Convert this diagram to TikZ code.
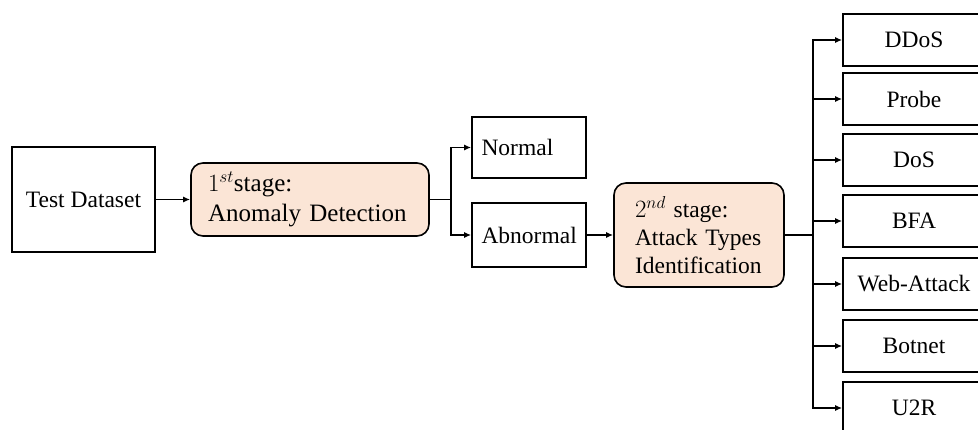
\documentclass[tikz,border=0pt]{standalone}
\usepackage{fontspec}
\setmainfont{Liberation Serif}
\usetikzlibrary{arrows.meta}
\definecolor{peach}{HTML}{FBE5D6}
\tikzset{
  box/.style={draw=black, line width=1.6pt, rectangle, inner sep=0pt,
    font=\fontsize{23.5}{28}\selectfont},
  stagebox/.style={box, fill=peach, rounded corners=12pt, align=left},
  link/.style={line width=1.6pt},
  arr/.style={link, -{Latex[length=7pt,width=6pt]}}
}
\begin{document}
\begin{tikzpicture}[x=1pt,y=-1pt]
\clip (0,0) rectangle (978,430);
\fill[white] (0,0) rectangle (978,430);

% input and first stage
\node[box, minimum width=143, minimum height=105] (data) at (83.5,199.5) {Test Dataset};
\node[stagebox, minimum width=238, minimum height=73, text width=204,
      font=\fontsize{25}{30}\selectfont] (s1) at (310,199.5)
  {$1^{st}$stage:\\Anomaly Detection};

% first-stage outcomes
\node[box, minimum width=114, minimum height=61, text width=95, align=left] (normal) at (529,147.5) {Normal};
\node[box, minimum width=114, minimum height=64, text width=95, align=left] (abn) at (529,235) {Abnormal};

% second stage
\node[stagebox, minimum width=170, minimum height=104, text width=128] (s2) at (699,235)
  {$2^{nd}$ stage:\\Attack Types\\Identification};

% attack classes
\foreach \name/\txt/\yy in {ddos/DDoS/40, probe/Probe/99, dos/DoS/160, bfa/BFA/221,
    web/Web-Attack/284, botnet/Botnet/346, utr/U2R/408}{
  \node[box, minimum width=142, minimum height=52] (\name) at (914,\yy) {\txt};
}

% connectors
\draw[arr] (data.east) -- (s1.west);
\coordinate (b1) at (451,199.5);
\draw[link] (s1.east) -- (b1);
\draw[arr] (b1) |- (normal.west);
\draw[arr] (b1) |- (abn.west);
\draw[arr] (abn.east) -- (s2.west);
\coordinate (b2) at (813,235);
\draw[link] (s2.east) -- (b2);
\foreach \name in {ddos,probe,dos,bfa,web,botnet,utr}{
  \draw[arr] (b2) |- (\name.west);
}
\end{tikzpicture}
\end{document}
